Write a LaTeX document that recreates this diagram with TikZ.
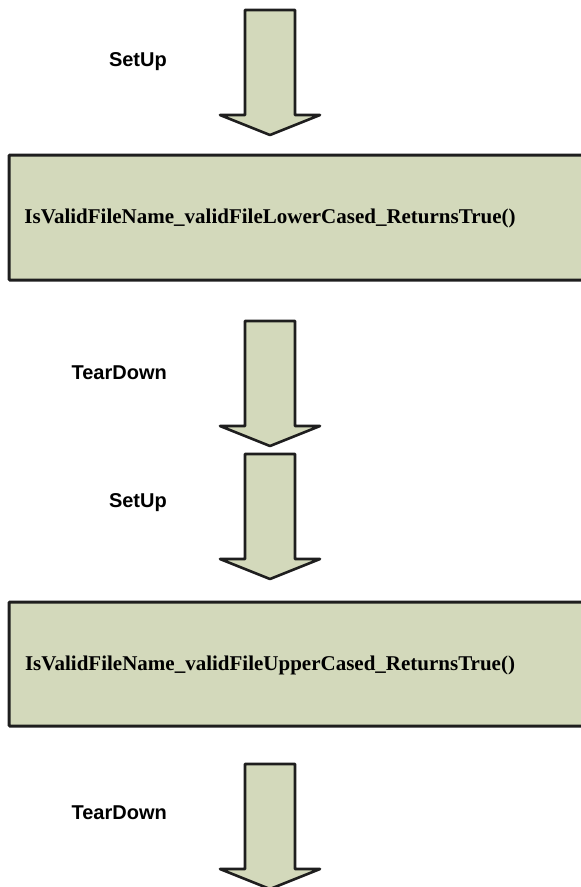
\documentclass[tikz,border=0pt]{standalone}
\usepackage{fontspec}
\setmainfont{Liberation Serif}
\setsansfont{Liberation Sans}
\usetikzlibrary{positioning}
\definecolor{olivefill}{RGB}{211,217,187}
\definecolor{darkline}{RGB}{30,30,30}
\tikzset{
  arrowbody/.style={fill=olivefill, draw=darkline, line width=2.6pt, line join=round},
  testbox/.style={fill=olivefill, draw=darkline, line width=3pt, rounded corners=1pt},
  steplabel/.style={font=\sffamily\bfseries\fontsize{20}{24}\selectfont, anchor=east, inner sep=0pt},
  testname/.style={font=\bfseries\fontsize{21}{25}\selectfont, inner sep=0pt}
}
% block arrow pointing down, from its top centre
\newcommand{\blockarrow}[1]{%
  \draw[arrowbody] (#1) ++(-25,0) -- ++(50,0) -- ++(0,105) -- ++(25,0)
    -- ++(-50,20) -- ++(-50,-20) -- ++(25,0) -- cycle;}
\begin{document}
\begin{tikzpicture}[x=1pt, y=-1pt]
		\clip (0,0) rectangle (581,887);
		\coordinate (a1) at (270,10);
		\coordinate (a2) at (270,321);
		\coordinate (a3) at (270,454);
		\coordinate (a4) at (270,764);
		\blockarrow{a1}
		\blockarrow{a2}
		\blockarrow{a3}
		\blockarrow{a4}
		\node[steplabel] (setup1) at ([shift={(-103,52)}]a1) {SetUp};
		\node[steplabel] (teardown1) at ([shift={(-103,52)}]a2) {TearDown};
		\node[steplabel] (setup2) at ([shift={(-103,49)}]a3) {SetUp};
		\node[steplabel] (teardown2) at ([shift={(-103,49)}]a4) {TearDown};
		\draw[testbox] (9,155) rectangle (600,280);
		\node[testname] (test1) at (270,218) {IsValidFileName\_validFileLowerCased\_ReturnsTrue()};
		\draw[testbox] (9,602) rectangle (600,726);
		\node[testname] (test2) at (270,665) {IsValidFileName\_validFileUpperCased\_ReturnsTrue()};
	\end{tikzpicture}
\end{document}
